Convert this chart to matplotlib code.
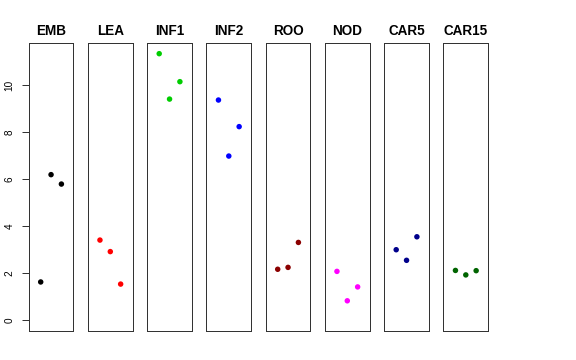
import matplotlib
matplotlib.use('Agg')
import matplotlib.pyplot as plt

plt.rcParams['font.family'] = ['Liberation Sans', 'DejaVu Sans']

# tissues and their three replicate values
tissues = ['EMB', 'LEA', 'INF1', 'INF2', 'ROO', 'NOD', 'CAR5', 'CAR15']
colors = ['#000000', '#FF0000', '#00CD00', '#0000FF',
          '#8B0000', '#FF00FF', '#00008B', '#006400']
replicates = [1, 2, 3]
values = [
    [1.63, 6.19, 5.79],
    [3.41, 2.92, 1.54],
    [11.33, 9.40, 10.14],
    [9.36, 6.98, 8.23],
    [2.17, 2.25, 3.31],
    [2.08, 0.83, 1.42],
    [3.00, 2.55, 3.55],
    [2.12, 1.93, 2.11],
]
yticks = [0, 2, 4, 6, 8, 10]

W, H = 576, 360
fig = plt.figure(figsize=(W / 72, H / 72), dpi=72)

ymax = max(max(v) for v in values)
pad = 0.04 * ymax
for i, (name, col, vals) in enumerate(zip(tissues, colors, values)):
    left = 28.7 + i * 59.25
    ax = fig.add_axes([left / W, 1 - 331 / H, 44.7 / W, 288 / H])
    ax.scatter(replicates, vals, s=30, color=col, edgecolors='none', zorder=3)
    ax.set_xlim(-0.16, 4.16)
    ax.set_ylim(-pad, ymax + pad)
    ax.set_xticks([])
    ax.set_title(name, fontsize=13.5, fontweight='bold', pad=8)
    for s in ax.spines.values():
        s.set_linewidth(1.0)
        s.set_color('#333333')
    if i == 0:
        ax.set_yticks(yticks)
        ax.set_yticklabels([str(t) for t in yticks], rotation=90, va='center', fontsize=10)
        ax.tick_params(axis='y', length=7, width=1, pad=7, color='#333333')
    else:
        ax.set_yticks([])

fig.savefig('out.png', dpi=72)
